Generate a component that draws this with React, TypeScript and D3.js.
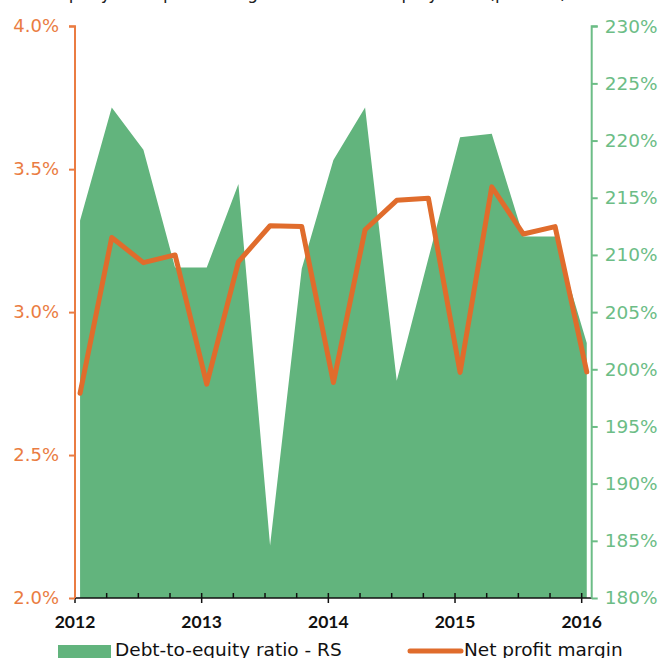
import React, { useRef, useEffect } from 'react';
import * as d3 from 'd3';

// quarterly observations, Q1 2012 .. Q1 2016
const periods = [
  '2012Q1', '2012Q2', '2012Q3', '2012Q4',
  '2013Q1', '2013Q2', '2013Q3', '2013Q4',
  '2014Q1', '2014Q2', '2014Q3', '2014Q4',
  '2015Q1', '2015Q2', '2015Q3', '2015Q4',
  '2016Q1',
];

// right scale, per cent
const debtToEquity = [
  213.0, 222.9, 219.2, 208.9, 208.9, 216.2, 184.6, 208.8,
  218.3, 222.9, 199.0, 209.7, 220.3, 220.6, 211.6, 211.6, 202.3,
];

// left scale, per cent
const netProfitMargin = [
  2.716, 3.261, 3.173, 3.2, 2.748, 3.176, 3.302, 3.299,
  2.754, 3.288, 3.391, 3.398, 2.789, 3.438, 3.273, 3.299, 2.791,
];

const yearTicks = [2012, 2013, 2014, 2015, 2016];
const leftTicks = [2.0, 2.5, 3.0, 3.5, 4.0];
const rightTicks = [180, 185, 190, 195, 200, 205, 210, 215, 220, 225, 230];

const ORANGE = '#e06c2c';
const ORANGE_AXIS = '#ea7c42';
const GREEN = '#62b47d';
const GREEN_AXIS = '#6cbd86';
const FONT = '"DejaVu Sans", sans-serif';
const BOLD_FONT = 'Lato, sans-serif';

const width = 662;
const height = 658;

// period label -> fractional year (observations sit a couple of weeks into the quarter)
const toYear = (p: string) => +p.slice(0, 4) + (+p.slice(5) - 1) * 0.25 + 0.04;

const App: React.FC = () => {
  const svgRef = useRef<SVGSVGElement>(null);

  useEffect(() => {
    if (!svgRef.current) return;
    const svg = d3.select(svgRef.current);
    svg.selectAll('*').remove();

    const left = 75;
    const right = 591.7;
    const top = 26.2;
    const bottom = 598;

    const x = d3.scaleLinear().domain([2012, 2016.079]).range([left, right]);
    const yL = d3.scaleLinear().domain([2.0, 4.0]).range([bottom, top]);
    const yR = d3.scaleLinear().domain([180, 230]).range([bottom, top]);

    const rows = periods.map((p, i) => ({
      t: toYear(p),
      de: debtToEquity[i],
      npm: netProfitMargin[i],
    }));

    // cut-off title at the very top
    svg.append('text')
      .attr('x', 30)
      .attr('y', -1)
      .style('font-family', FONT)
      .style('font-size', '17px')
      .attr('fill', '#222')
      .text("Company's net profit margin and debt-to-equity ratio (percent)");

    // area (right scale)
    const area = d3.area<typeof rows[0]>()
      .x(d => x(d.t))
      .y0(yR(180))
      .y1(d => yR(d.de));
    svg.append('path')
      .datum(rows)
      .attr('d', area)
      .attr('fill', GREEN);

    // x axis
    const xg = svg.append('g').attr('transform', `translate(0,${bottom})`);
    xg.append('line')
      .attr('x1', left).attr('x2', right)
      .attr('stroke', '#111').attr('stroke-width', 1.5);
    const quarterTicks = d3.range(2012, 2016.01, 0.25);
    xg.selectAll('.qt')
      .data(quarterTicks)
      .enter()
      .append('line')
      .attr('x1', d => x(d)).attr('x2', d => x(d))
      .attr('y1', d => (Number.isInteger(d) ? 5 : 0))
      .attr('y2', -5)
      .attr('stroke', '#111').attr('stroke-width', 1.5);
    xg.selectAll('.yl')
      .data(yearTicks)
      .enter()
      .append('text')
      .attr('x', d => x(d))
      .attr('y', 30)
      .attr('text-anchor', 'middle')
      .style('font-family', BOLD_FONT)
      .style('font-size', '17.5px')
      .style('font-weight', 700)
      .attr('fill', '#111')
      .text(d => String(d));

    // left axis
    const axL = d3.axisLeft(yL).tickValues(leftTicks).tickSize(6).tickPadding(10)
      .tickFormat(d => `${(+d).toFixed(1)}%`);
    const gl = svg.append('g').attr('transform', `translate(${left},0)`).call(axL);
    gl.select('.domain').attr('stroke', ORANGE_AXIS).attr('stroke-width', 2).attr('d', `M-6,${top}H0V${bottom}`);
    gl.selectAll('.tick line').attr('stroke', ORANGE_AXIS).attr('stroke-width', 2);
    gl.selectAll('.tick text')
      .attr('fill', ORANGE_AXIS)
      .style('font-family', FONT)
      .style('font-size', '18px');

    // right axis
    const axR = d3.axisRight(yR).tickValues(rightTicks).tickSize(6).tickPadding(7)
      .tickFormat(d => `${d}%`);
    const gr = svg.append('g').attr('transform', `translate(${right},0)`).call(axR);
    gr.select('.domain').attr('stroke', GREEN_AXIS).attr('stroke-width', 2).attr('d', `M6,${top}H0V${bottom}`);
    gr.selectAll('.tick line').attr('stroke', GREEN_AXIS).attr('stroke-width', 2);
    gr.selectAll('.tick text')
      .attr('fill', GREEN_AXIS)
      .style('font-family', FONT)
      .style('font-size', '18.5px');

    // line (left scale)
    const line = d3.line<typeof rows[0]>()
      .x(d => x(d.t))
      .y(d => yL(d.npm));
    svg.append('path')
      .datum(rows)
      .attr('d', line)
      .attr('fill', 'none')
      .attr('stroke', ORANGE)
      .attr('stroke-width', 5)
      .attr('stroke-linejoin', 'round')
      .attr('stroke-linecap', 'round');

    // legend
    const lg = svg.append('g').attr('transform', 'translate(0,651)');
    lg.append('rect').attr('x', 58).attr('y', -6).attr('width', 53).attr('height', 13).attr('fill', GREEN);
    lg.append('text')
      .attr('x', 115).attr('y', 5)
      .style('font-family', FONT).style('font-size', '18.5px')
      .attr('fill', '#111')
      .text('Debt-to-equity ratio - RS');
    lg.append('line')
      .attr('x1', 410).attr('x2', 461).attr('y1', 0).attr('y2', 0)
      .attr('stroke', ORANGE).attr('stroke-width', 5).attr('stroke-linecap', 'round');
    lg.append('text')
      .attr('x', 464).attr('y', 5)
      .style('font-family', FONT).style('font-size', '18.5px')
      .attr('fill', '#111')
      .text('Net profit margin');
  }, []);

  return (
    <div style={{ position: 'absolute', left: 0, top: 0 }}>
      <svg ref={svgRef} width={width} height={height} style={{ display: 'block', overflow: 'hidden' }} />
    </div>
  );
};

export default App;
